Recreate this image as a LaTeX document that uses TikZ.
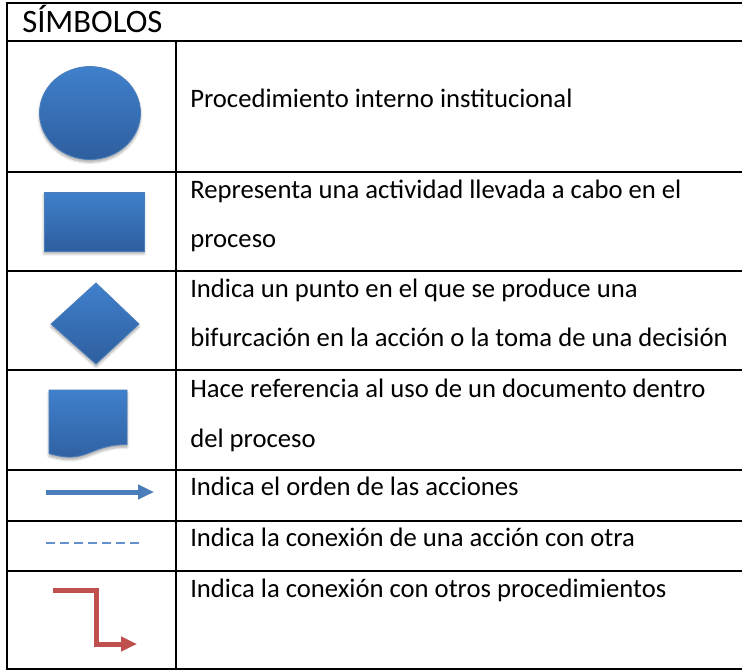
\documentclass[tikz,border=0pt]{standalone}
\usepackage{fontspec}
\setmainfont{Carlito}
\usetikzlibrary{arrows.meta,shadows.blur}
\definecolor{shapetop}{RGB}{64,128,204}
\definecolor{shapebot}{RGB}{46,94,158}
\definecolor{shapeline}{RGB}{74,126,187}
\definecolor{arrowblue}{RGB}{74,126,187}
\definecolor{dashblue}{RGB}{100,145,205}
\definecolor{connred}{RGB}{192,80,77}
\begin{document}
\begin{tikzpicture}[x=0.75pt,y=-0.75pt,
  grid/.style={line width=1.5pt, black},
  symbol/.style={top color=shapetop, bottom color=shapebot, draw=shapeline, line width=0.6pt,
    blur shadow={shadow xshift=0pt, shadow yshift=-2pt, shadow opacity=35, shadow blur steps=6}},
  lineshadow/.style={draw=black, opacity=0.12, shift={(1,3)}},
  body/.style={anchor=base west, inner sep=0pt, font=\fontsize{20}{24}\selectfont},
  head/.style={anchor=base west, inner sep=0pt, font=\fontsize{24.5}{28}\selectfont},
  tipstyle/.style={-{Triangle[length=12pt,width=10.5pt]}}]

\useasboundingbox (0,0) rectangle (742,671);

% table grid
\draw[grid, line join=miter] (742,2.5) -- (7,2.5) -- (7,669) -- (742,669);
\foreach \yy in {41,172,271,370,470,521,571}
  \draw[grid] (7,\yy) -- (742,\yy);
\draw[grid] (176,41) -- (176,669);

% header
\node[head] (hdr) at (22,32) {SÍMBOLOS};

% symbols
\path[symbol] (90,113) ellipse [x radius=50.5, y radius=46.5];
\path[symbol] (44,192) rectangle (144,251);
\path[symbol] (96,283) -- (139,324) -- (96,364) -- (51,324) -- cycle;
\path[symbol] (49,390) -- (127,390) -- (127,444.5) .. controls (88,444.5) and (88,465) .. (49,453.5) -- cycle;

% blue arrow
\coordinate (a1) at (46,492);
\coordinate (a2) at (154,492);
\draw[lineshadow, line width=3.75pt, tipstyle] (a1) -- (a2);
\draw[arrowblue, line width=3.75pt, tipstyle] (a1) -- (a2);

% dashed line
\coordinate (d1) at (46,543);
\coordinate (d2) at (139,543);
\draw[dashblue, line width=1.5pt, dash pattern=on 6.75pt off 3.75pt] (d1) -- (d2);

% red connector
\coordinate (r1) at (53,590);
\coordinate (rc1) at (96,590);
\coordinate (rc2) at (96,644);
\coordinate (r2) at (137,644);
\draw[lineshadow, line width=3.75pt, line join=miter, tipstyle] (r1) -- (rc1) -- (rc2) -- (r2);
\draw[connred, line width=3.75pt, line join=miter, tipstyle] (r1) -- (rc1) -- (rc2) -- (r2);

% texts
\node[body] (t1) at (190,107) {Procedimiento interno institucional};
\node[body] (t2a) at (190,198) {Representa una actividad llevada a cabo en el};
\node[body] (t2b) at (190,247) {proceso};
\node[body] (t3a) at (190,297) {Indica un punto en el que se produce una};
\node[body] (t3b) at (190,346) {bifurcación en la acción o la toma de una decisión};
\node[body] (t4a) at (190,397) {Hace referencia al uso de un documento dentro};
\node[body] (t4b) at (190,447) {del proceso};
\node[body] (t5) at (190,495) {Indica el orden de las acciones};
\node[body] (t6) at (190,546) {Indica la conexión de una acción con otra};
\node[body] (t7) at (190,597) {Indica la conexión con otros procedimientos};
\end{tikzpicture}
\end{document}
